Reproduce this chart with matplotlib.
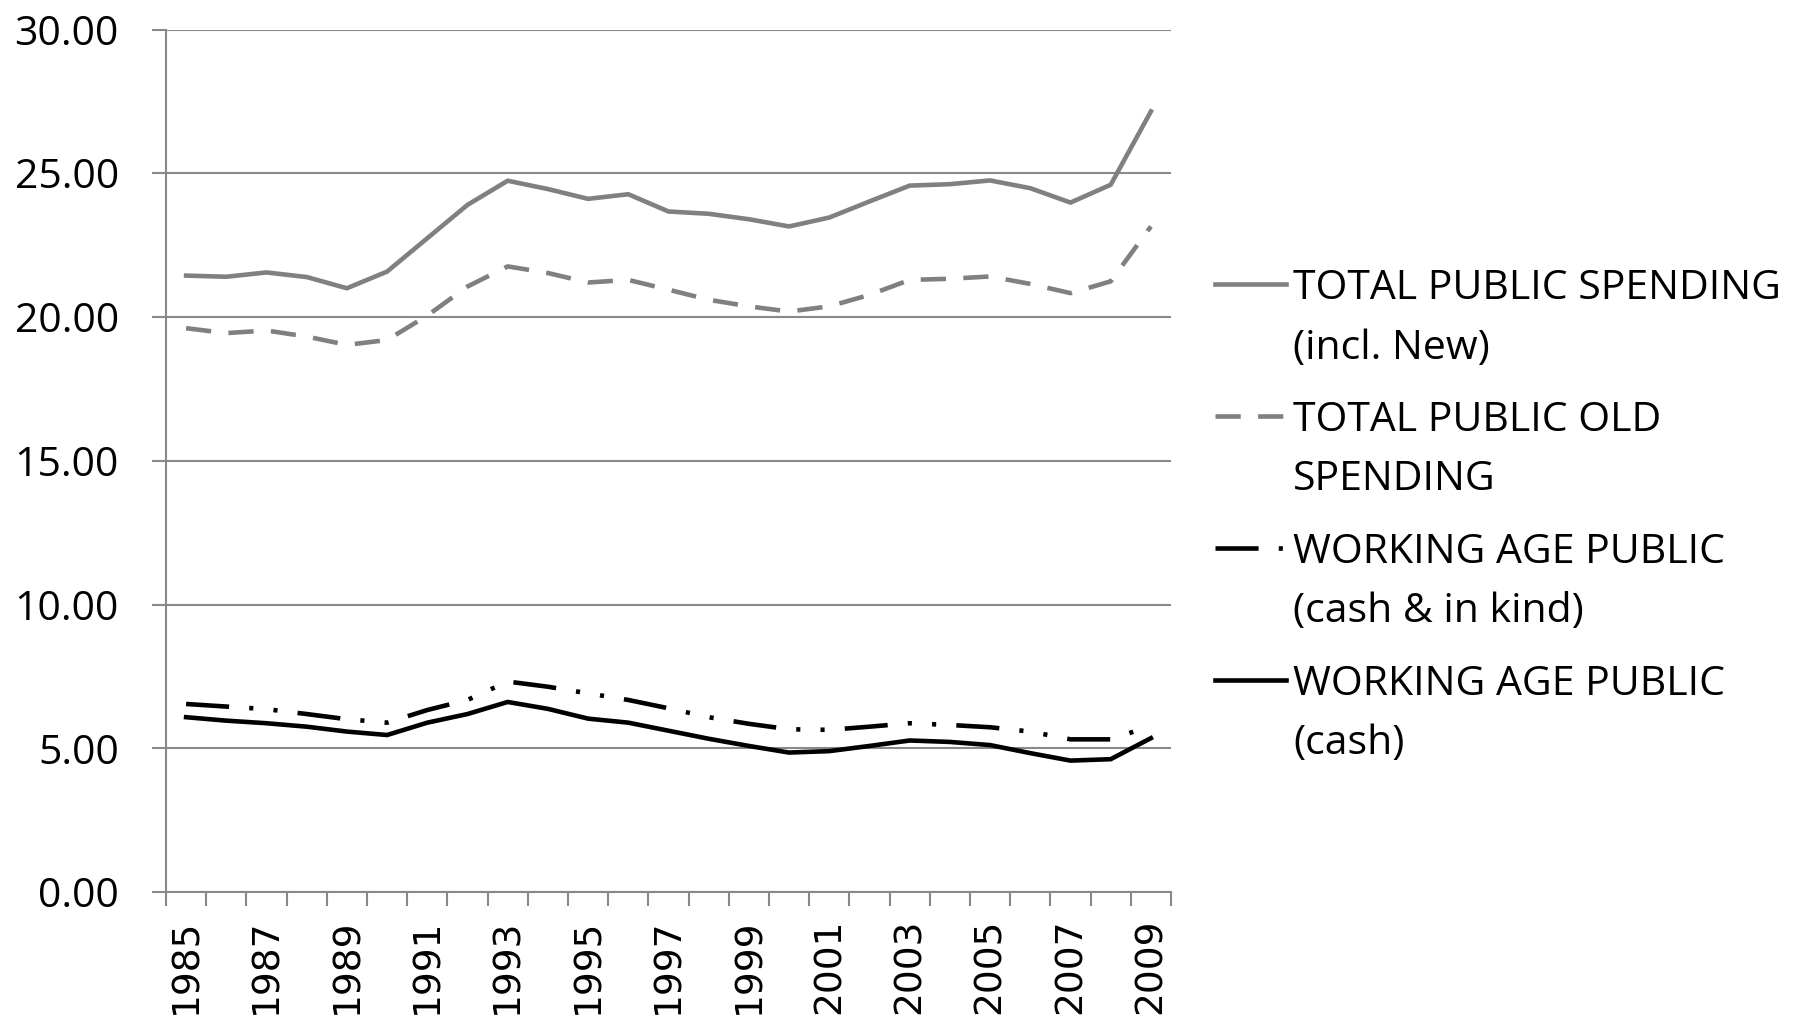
import numpy as np
import matplotlib
matplotlib.use("Agg")
import matplotlib.pyplot as plt
from matplotlib.lines import Line2D

# dados
years = list(range(1985, 2010))
total_public = [21.44, 21.40, 21.55, 21.39, 21.00, 21.58, 22.74, 23.90, 24.74, 24.45,
                24.11, 24.27, 23.67, 23.59, 23.40, 23.15, 23.46, 24.02, 24.57, 24.62,
                24.75, 24.48, 23.98, 24.60, 27.15]
total_old = [19.61, 19.44, 19.53, 19.32, 19.03, 19.20, 20.05, 21.06, 21.76, 21.53,
             21.20, 21.29, 20.95, 20.60, 20.37, 20.19, 20.37, 20.77, 21.29, 21.33,
             21.41, 21.15, 20.83, 21.24, 23.15]
working_cash_kind = [6.54, 6.45, 6.36, 6.19, 6.01, 5.89, 6.33, 6.68, 7.32, 7.14,
                     6.91, 6.68, 6.39, 6.08, 5.85, 5.66, 5.64, 5.75, 5.87, 5.81,
                     5.73, 5.58, 5.31, 5.31, 5.78]
working_cash = [6.08, 5.96, 5.87, 5.75, 5.58, 5.46, 5.89, 6.19, 6.61, 6.37,
                6.03, 5.89, 5.61, 5.33, 5.08, 4.85, 4.90, 5.08, 5.27, 5.22,
                5.11, 4.83, 4.57, 4.62, 5.35]
labels = ["TOTAL PUBLIC SPENDING\n(incl. New)",
          "TOTAL PUBLIC OLD\nSPENDING",
          "WORKING AGE PUBLIC\n(cash & in kind)",
          "WORKING AGE PUBLIC\n(cash)"]

GRAY = "#808080"
AXGRAY = "#898989"
LW = 3.3
text_font = ["Open Sans", "DejaVu Sans"]

styles = [
    dict(color=GRAY, linestyle="-"),
    dict(color=GRAY, linestyle=(0, (5.5, 3.8))),
    dict(color="black", linestyle=(0, (9.4, 4.4, 0.9, 4.4, 0.9, 4.4))),
    dict(color="black", linestyle="-"),
]
series = [total_public, total_old, working_cash_kind, working_cash]

W, H = 1800, 1019
fig = plt.figure(figsize=(W / 100, H / 100), dpi=100)
ax = fig.add_axes([166 / W, 1 - 892 / H, (1171 - 166) / W, (892 - 29.5) / H])

x = np.arange(len(years))
for vals, st in zip(series, styles):
    ax.plot(x, vals, lw=LW, dash_capstyle="butt", solid_joinstyle="miter", **st)

ax.set_xlim(-0.5, len(years) - 0.5)
ax.set_ylim(0, 30)

# eixo y
ax.set_yticks(np.arange(0, 31, 5))
ax.set_yticklabels([f"{v:.2f}" for v in np.arange(0, 31, 5)], fontfamily=text_font, fontsize=29.5)
ax.yaxis.grid(True, color=AXGRAY, lw=1.5)
ax.set_axisbelow(True)
ax.tick_params(axis="y", length=10, width=1.5, color=AXGRAY, pad=24, direction="out")

# eixo x: marcas entre categorias, rotulos nos anos impares
ax.set_xticks(np.arange(-0.5, len(years), 1))
ax.set_xticklabels([])
ax.tick_params(axis="x", which="major", length=10, width=1.5, color=AXGRAY, direction="out")
ax.set_xticks(x[::2], minor=True)
ax.set_xticklabels([str(y) for y in years[::2]], minor=True, rotation=90,
                   fontfamily="DejaVu Sans", fontsize=27, va="top")
ax.tick_params(axis="x", which="minor", length=0, pad=19)

for s in ["top", "right"]:
    ax.spines[s].set_visible(False)
for s in ["left", "bottom"]:
    ax.spines[s].set_color(AXGRAY)
    ax.spines[s].set_linewidth(1.5)

# legenda manual (icone alinhado com a primeira linha do texto)
y_first, y_step, line_step = 284, 132, 59.5
for i, (lab, st) in enumerate(zip(labels, styles)):
    yc = y_first + i * y_step
    fig.add_artist(Line2D([1215 / W, 1286 / W], [1 - yc / H, 1 - yc / H], transform=fig.transFigure,
                          lw=LW, dash_capstyle="butt", **st))
    for j, part in enumerate(lab.split("\n")):
        fig.text(1293 / W, 1 - (yc + 15 + j * line_step) / H, part, va="baseline", ha="left",
                 fontfamily=text_font, fontsize=29.5, color="black")

fig.savefig("out.png", dpi=100)
